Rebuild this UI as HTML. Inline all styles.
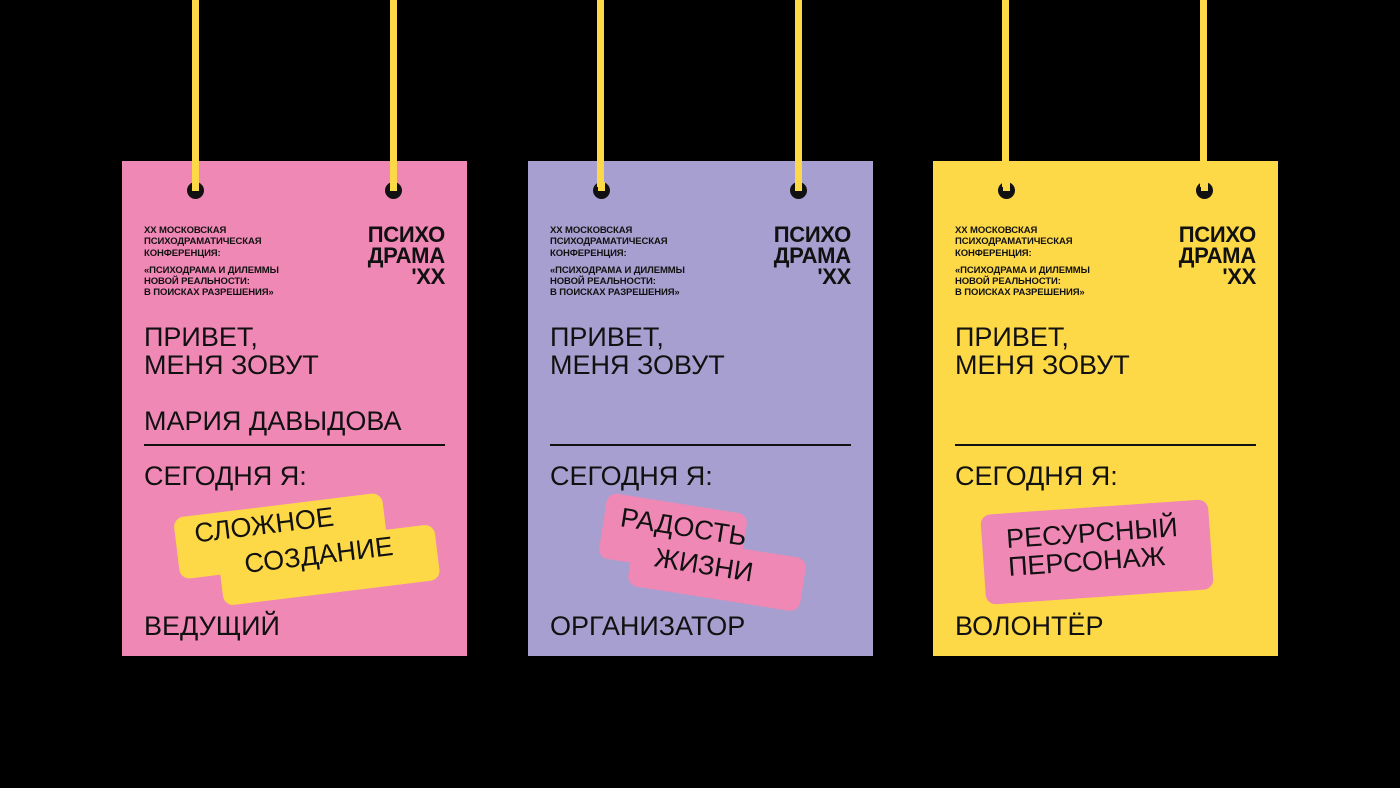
<!DOCTYPE html>
<html><head><meta charset="utf-8"><style>
*{margin:0;padding:0;box-sizing:border-box}
body{width:1400px;height:788px;background:#000;position:relative;overflow:hidden;font-family:"Liberation Sans","Noto Sans CJK SC",sans-serif;color:#111}
.str{position:absolute;top:0;width:7px;height:187px;background:#fed947}
.card{position:absolute;top:161px;width:345px;height:495px}
.hole{position:absolute;top:21px;width:17px;height:17px;border-radius:50%;background:#111}
.hole i{position:absolute;left:5px;top:0;width:7px;height:9px;background:#fed947}
.small{position:absolute;left:22px;top:64px;font-size:9.5px;line-height:11.3px;font-weight:bold;letter-spacing:-0.1px}
.small p{margin-bottom:6px}
.logo{position:absolute;right:22px;top:63px;font-size:22px;font-weight:bold;line-height:21px;letter-spacing:-0.3px}
.logo span{display:block;text-align:right}
.big{position:absolute;left:22px;font-size:27px;line-height:28px;white-space:nowrap}
.line{position:absolute;left:22px;top:283px;width:301px;height:2px;background:#111}
.stk{position:absolute;border-radius:10px}
.st{position:absolute;font-size:27px;line-height:28px;white-space:nowrap}
</style></head><body>
<div class="card" style="left:122px;background:#ef88b5">
 <div class="hole" style="left:65px"><i></i></div><div class="hole" style="left:263px"><i></i></div>
 <div class="small"><p>XX МОСКОВСКАЯ<br>ПСИХОДРАМАТИЧЕСКАЯ<br>КОНФЕРЕНЦИЯ:</p><p>«ПСИХОДРАМА И ДИЛЕММЫ<br>НОВОЙ РЕАЛЬНОСТИ:<br>В ПОИСКАХ РАЗРЕШЕНИЯ»</p></div>
 <div class="logo">ПСИХО<br>ДРАМА<span>'ХХ</span></div>
 <div class="big" style="top:162px">ПРИВЕТ,<br>МЕНЯ ЗОВУТ</div>
 <div class="big" style="top:246px">МАРИЯ ДАВЫДОВА</div>
 <div class="line"></div>
 <div class="big" style="top:301px">СЕГОДНЯ Я:</div>
 <div class="stk" style="left:54px;top:344px;width:210px;height:62px;background:#fed947;transform:rotate(-7deg)"></div>
 <div class="stk" style="left:98px;top:376px;width:218px;height:56px;background:#fed947;transform:rotate(-7deg)"></div>
 <div class="st" style="left:72px;top:350px;transform:rotate(-7deg)">СЛОЖНОЕ</div>
 <div class="st" style="left:122px;top:380px;transform:rotate(-7deg)">СОЗДАНИЕ</div>
 <div class="big" style="top:451px">ВЕДУЩИЙ</div>
</div>
<div class="card" style="left:528px;background:#a79fcf">
 <div class="hole" style="left:65px"><i></i></div><div class="hole" style="left:262px"><i></i></div>
 <div class="small"><p>XX МОСКОВСКАЯ<br>ПСИХОДРАМАТИЧЕСКАЯ<br>КОНФЕРЕНЦИЯ:</p><p>«ПСИХОДРАМА И ДИЛЕММЫ<br>НОВОЙ РЕАЛЬНОСТИ:<br>В ПОИСКАХ РАЗРЕШЕНИЯ»</p></div>
 <div class="logo">ПСИХО<br>ДРАМА<span>'ХХ</span></div>
 <div class="big" style="top:162px">ПРИВЕТ,<br>МЕНЯ ЗОВУТ</div>
 <div class="line"></div>
 <div class="big" style="top:301px">СЕГОДНЯ Я:</div>
 <div class="stk" style="left:74px;top:342px;width:142px;height:66px;background:#ef88b5;transform:rotate(9deg)"></div>
 <div class="stk" style="left:102px;top:384px;width:174px;height:54px;background:#ef88b5;transform:rotate(9deg)"></div>
 <div class="st" style="left:92px;top:352px;transform:rotate(9deg)">РАДОСТЬ</div>
 <div class="st" style="left:126px;top:390px;transform:rotate(9deg)">ЖИЗНИ</div>
 <div class="big" style="top:451px">ОРГАНИЗАТОР</div>
</div>
<div class="card" style="left:933px;background:#fed947">
 <div class="hole" style="left:65px"><i></i></div><div class="hole" style="left:263px"><i></i></div>
 <div class="small"><p>XX МОСКОВСКАЯ<br>ПСИХОДРАМАТИЧЕСКАЯ<br>КОНФЕРЕНЦИЯ:</p><p>«ПСИХОДРАМА И ДИЛЕММЫ<br>НОВОЙ РЕАЛЬНОСТИ:<br>В ПОИСКАХ РАЗРЕШЕНИЯ»</p></div>
 <div class="logo">ПСИХО<br>ДРАМА<span>'ХХ</span></div>
 <div class="big" style="top:162px">ПРИВЕТ,<br>МЕНЯ ЗОВУТ</div>
 <div class="line"></div>
 <div class="big" style="top:301px">СЕГОДНЯ Я:</div>
 <div class="stk" style="left:50px;top:346px;width:228px;height:90px;background:#ef88b5;transform:rotate(-4deg)"></div>
 <div class="st" style="left:74px;top:358px;transform:rotate(-4deg)">РЕСУРСНЫЙ<br>ПЕРСОНАЖ</div>
 <div class="big" style="top:451px">ВОЛОНТЁР</div>
</div>
<div class="str" style="left:192px"></div><div class="str" style="left:390px"></div>
<div class="str" style="left:597px"></div><div class="str" style="left:795px"></div>
<div class="str" style="left:1002px"></div><div class="str" style="left:1200px"></div>
</body></html>
